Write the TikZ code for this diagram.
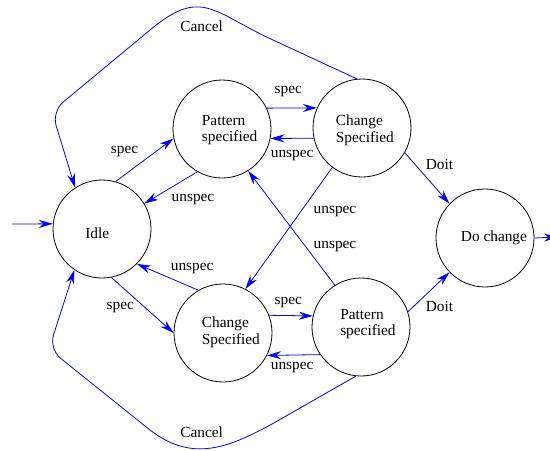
\documentclass[tikz,border=0pt]{standalone}
\usepackage{fontspec}
\setmainfont{Liberation Serif}
\usetikzlibrary{arrows.meta}

\tikzset{
  state/.style={circle, draw, line width=0.6pt, minimum size=73.5pt, inner sep=0pt},
  txt/.style={anchor=west, align=left, inner sep=0pt, font=\fontsize{11.5}{12.5}\selectfont},
  lbl/.style={inner sep=0pt, font=\fontsize{11.5}{12.5}\selectfont},
  trans/.style={draw=blue, line width=0.6pt, -{Stealth[length=10.5pt,width=6pt,inset=3.5pt]}},
}

\begin{document}
\begin{tikzpicture}[x=0.75pt, y=-0.75pt]
  \useasboundingbox (0,0) rectangle (550,450);

  % states
  \node[state] (idle) at (102,229) {};
  \node[state] (pt)   at (222,129) {};
  \node[state] (ct)   at (362,128) {};
  \node[state] (dc)   at (485,238) {};
  \node[state] (cb)   at (223,333) {};
  \node[state] (pb)   at (361,327) {};

  \node[txt] (idletxt) at (85,233)    {Idle};
  \node[txt] (pttxt)   at (201.7,130) {Pattern\\specified};
  \node[txt] (cttxt)   at (335.7,130.5) {Change\\Specified};
  \node[txt] (dctxt)   at (460.7,237.5) {Do change};
  \node[txt] (cbtxt)   at (201.7,332) {Change\\Specified};
  \node[txt] (pbtxt)   at (340,324)   {Pattern\\specified};

  \coordinate (start) at (12,224);
  \coordinate (exit)  at (558,237);

  % transitions
  \draw[trans] (start) -- (idle.174);
  \draw[trans] (dc.east) -- (exit);

  \draw[trans] (idle.74) -- (pt.191);
  \draw[trans] (pt.240) -- (idle.31);
  \draw[trans] (pt.25) -- (ct.156);
  \draw[trans] (ct.192) -- (pt.349);
  \draw[trans] (ct.-30) -- (dc.136);
  \draw[trans] (ct.233) -- (cb.63);
  \draw[trans] (pb.122) -- (pt.-58);

  \draw[trans] (idle.281) -- (cb.180);
  \draw[trans] (cb.120) -- (idle.-45);
  \draw[trans] (cb.21) -- (pb.167);
  \draw[trans] (pb.214) -- (cb.-27);
  \draw[trans] (pb.18) -- (dc.224);

  % cancel loops
  \draw[trans] (ct.96) -- (273,40) .. controls (212,11.9) and (201.6,-12.9) .. (150,30)
    [rounded corners=11pt] -- (51.8,111.5) -- (idle.123);
  \draw[trans] (pb.264) -- (273.3,423.3) .. controls (227.1,448.7) and (191.6,462.1) .. (150,430)
    [rounded corners=11pt] -- (49,349) -- (idle.236);

  % labels
  \node[lbl] (spec1)   at (124.5,151.7) {spec};
  \node[lbl] (unspec1) at (193,200)     {unspec};
  \node[lbl] (spec2)   at (288.3,91.7)  {spec};
  \node[lbl] (unspec2) at (292.2,155.7) {unspec};
  \node[lbl] (doit1)   at (439.5,164)   {Doit};
  \node[lbl] (unspec3) at (335,211.7)   {unspec};
  \node[lbl] (unspec4) at (335,246.7)   {unspec};
  \node[lbl] (spec3)   at (120.3,307.7) {spec};
  \node[lbl] (unspec5) at (192.2,268.3) {unspec};
  \node[lbl] (spec4)   at (288.3,302.3) {spec};
  \node[lbl] (unspec6) at (292.2,367.7) {unspec};
  \node[lbl] (doit2)   at (439.5,306.7) {Doit};
  \node[lbl] (cancel1) at (201.7,26)    {Cancel};
  \node[lbl] (cancel2) at (201.7,432.3) {Cancel};
\end{tikzpicture}
\end{document}
